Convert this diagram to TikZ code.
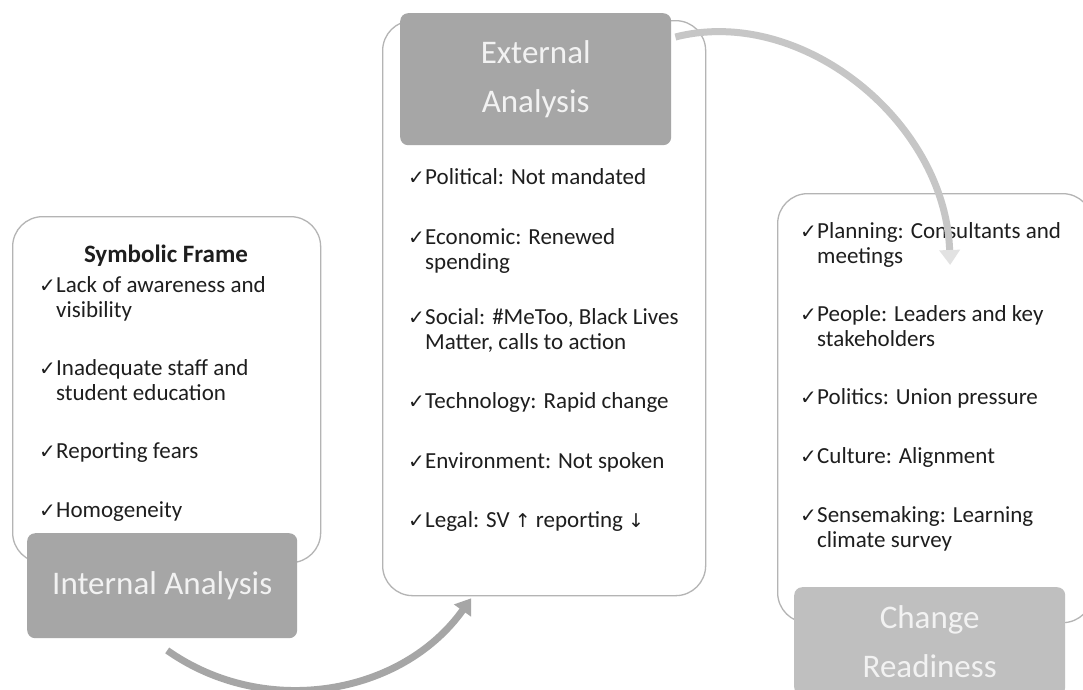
\documentclass[tikz,border=0pt]{standalone}
\usepackage{fontspec}
\setmainfont{Carlito}
\newfontfamily\symfont{DejaVu Sans}
\usetikzlibrary{arrows.meta}

\definecolor{panelline}{HTML}{B4B4B4}
\definecolor{tagdark}{HTML}{A6A6A6}
\definecolor{taglight}{HTML}{BFBFBF}
\definecolor{tagtext}{HTML}{F2F2F2}
\definecolor{arcdark}{HTML}{A6A6A6}
\definecolor{arclight}{HTML}{C6C6C6}
\definecolor{arcfade}{HTML}{E2E2E2}
\definecolor{bodytext}{HTML}{1E1E1E}

% check mark, then the item text with its second line hung under the first
\newcommand{\chk}[1]{\makebox[17pt][l]{\symfont\fontsize{20}{20}\selectfont ✓}\parbox[t]{290pt}{\raggedright #1}}
\newcommand{\arr}[1]{{\symfont\fontsize{19}{19}\selectfont #1}}

\begin{document}
\begin{tikzpicture}[
    x=1pt, y=-1pt,
    panel/.style={
        draw=panelline,
        line width=1.3pt,
        fill=white,
        rounded corners=30pt,
        inner sep=0pt,
        anchor=north west
    },
    tag/.style={
        fill=tagdark,
        rounded corners=8pt,
        text=tagtext,
        align=center,
        inner sep=0pt,
        anchor=north west,
        font=\fontsize{33}{49}\selectfont
    },
    item/.style={
        anchor=base west,
        inner sep=0pt,
        text=bodytext,
        font=\fontsize{23}{25}\selectfont
    },
    flowarc/.style={line width=7pt, -{Triangle[width=20pt,length=15pt]}}
]
    \useasboundingbox (0,0) rectangle (1083,689);
    \fill[white] (0,0) rectangle (1083,689);

    % Panels
    \node[panel, minimum width=308pt, minimum height=346pt] (intbox) at (12,216) {};
    \node[panel, minimum width=323pt, minimum height=575pt] (extbox) at (382,20) {};
    \node[panel, minimum width=315pt, minimum height=429pt] (chgbox) at (777,193) {};

    % Labels
    \node[tag, minimum width=270pt, minimum height=105pt] (intlabel) at (27,533) {Internal Analysis};
    \node[tag, minimum width=271pt, minimum height=132pt] (extlabel) at (400,13) {External\\Analysis};
    \node[tag, fill=taglight, minimum width=271pt, minimum height=108pt] (chglabel) at (794,587) {Change\\Readiness};

    % Internal analysis items
    \node[anchor=base, inner sep=0pt, text=bodytext, font=\fontsize{25}{25}\selectfont\bfseries] (symhead) at (166,262) {Symbolic Frame};
    \node[item] (int1) at (39,292) {\chk{Lack of awareness and\\visibility}};
    \node[item] (int2) at (39,375) {\chk{Inadequate staff and\\student education}};
    \node[item] (int3) at (39,458) {\chk{Reporting fears}};
    \node[item] (int4) at (39,517) {\chk{Homogeneity}};

    % External analysis items
    \node[item] (ext1) at (408,184) {\chk{Political: Not mandated}};
    \node[item] (ext2) at (408,244) {\chk{Economic: Renewed\\spending}};
    \node[item] (ext3) at (408,324) {\chk{Social: \#MeToo, Black Lives\\Matter, calls to action}};
    \node[item] (ext4) at (408,408) {\chk{Technology: Rapid change}};
    \node[item] (ext5) at (408,468) {\chk{Environment: Not spoken}};
    \node[item] (ext6) at (408,527) {\chk{Legal: SV \arr{↑} reporting \arr{↓}}};

    % Change readiness items
    \node[item] (chg1) at (800,238) {\chk{Planning: Consultants and\\meetings}};
    \node[item] (chg2) at (800,321) {\chk{People: Leaders and key\\stakeholders}};
    \node[item] (chg3) at (800,404) {\chk{Politics: Union pressure}};
    \node[item] (chg4) at (800,463) {\chk{Culture: Alignment}};
    \node[item] (chg5) at (800,522) {\chk{Sensemaking: Learning\\climate survey}};

    % Flow arcs
    \draw[flowarc, arcdark] ([xshift=5pt,yshift=-12pt]intlabel.south)
        .. controls +(98,69) and +(-69,97) .. ([xshift=-73pt,yshift=-2pt]extbox.south);
    \draw[flowarc, arclight, -{Triangle[width=20pt,length=15pt,color=arcfade]}] ([xshift=4pt,yshift=-24pt]extlabel.north east)
        .. controls +(125,-32) and +(-5,-145) .. ([xshift=15pt,yshift=-72pt]chgbox.north);

\end{tikzpicture}
\end{document}
